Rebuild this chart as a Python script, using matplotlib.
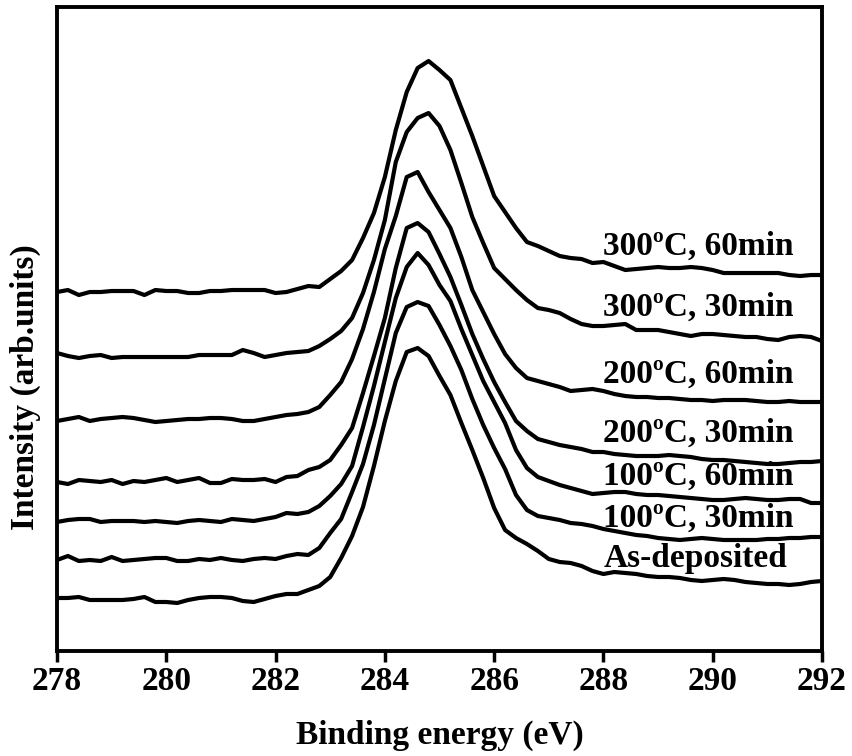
import matplotlib
matplotlib.use('Agg')
import matplotlib.pyplot as plt
import numpy as np

# binding energy grid, 0.2 eV steps
energy = np.round(np.arange(278.0, 292.01, 0.2), 1)

as_dep = [53, 53, 54, 51, 51, 51, 51, 52, 54, 49,
          49, 48, 51, 53, 54, 54, 53, 50, 49, 52,
          55, 57, 57, 61, 65, 74, 93, 115, 144, 185,
          230, 270, 299, 303, 295, 275, 256, 228, 201, 173,
          143, 121, 113, 107, 100, 92, 89, 88, 85, 80,
          77, 79, 78, 77, 75, 74, 74, 73, 71, 70,
          71, 72, 71, 69, 68, 67, 67, 66, 67, 69, 70]
t100_30 = [91, 95, 90, 91, 90, 94, 90, 91, 92, 93,
           93, 90, 90, 92, 91, 93, 91, 90, 92, 93,
           92, 95, 97, 96, 103, 118, 132, 159, 187, 226,
           272, 318, 344, 349, 345, 326, 305, 281, 252, 226,
           203, 182, 156, 141, 135, 133, 131, 128, 127, 125,
           122, 120, 118, 116, 115, 113, 112, 111, 112, 113,
           112, 111, 111, 111, 111, 112, 112, 113, 113, 114, 114]
t100_60 = [129, 131, 132, 132, 129, 130, 130, 130, 129, 130,
           129, 128, 130, 131, 130, 129, 132, 131, 130, 132,
           134, 138, 137, 139, 145, 155, 167, 185, 224, 265,
           309, 353, 384, 398, 386, 366, 350, 322, 296, 270,
           249, 228, 201, 183, 174, 170, 166, 163, 160, 157,
           158, 159, 159, 157, 156, 156, 155, 154, 153, 152,
           151, 151, 152, 153, 152, 151, 151, 152, 152, 148, 148]
t200_30 = [169, 167, 171, 170, 169, 171, 167, 170, 169, 171,
           173, 169, 171, 173, 168, 168, 172, 171, 171, 172,
           169, 174, 175, 181, 184, 191, 206, 223, 258, 295,
           333, 383, 423, 428, 419, 397, 374, 346, 317, 292,
           269, 249, 230, 220, 212, 209, 206, 204, 202, 199,
           199, 197, 196, 195, 195, 195, 196, 195, 194, 192,
           191, 191, 190, 189, 188, 187, 187, 188, 189, 189, 190]
t200_60 = [230, 232, 234, 230, 232, 233, 234, 233, 231, 229,
           230, 231, 232, 232, 233, 233, 232, 230, 230, 232,
           234, 236, 237, 239, 244, 256, 269, 292, 322, 359,
           402, 435, 474, 479, 459, 441, 423, 394, 361, 339,
           317, 297, 283, 273, 270, 267, 264, 260, 261, 262,
           260, 257, 255, 254, 254, 253, 253, 252, 251, 251,
           250, 251, 251, 251, 250, 249, 249, 250, 249, 249, 249]
t300_30 = [298, 295, 293, 295, 296, 293, 294, 294, 294, 294,
           294, 294, 294, 296, 296, 296, 296, 301, 298, 294,
           296, 298, 299, 300, 305, 312, 320, 333, 358, 391,
           431, 489, 519, 533, 538, 525, 501, 468, 434, 408,
           383, 372, 361, 351, 343, 341, 338, 332, 327, 325,
           325, 326, 327, 321, 321, 321, 319, 317, 315, 317,
           317, 316, 315, 314, 314, 312, 311, 314, 315, 314, 310]
t300_60 = [359, 361, 356, 359, 359, 360, 360, 360, 356, 361,
           360, 360, 358, 358, 360, 360, 361, 361, 361, 361,
           358, 359, 362, 365, 364, 372, 380, 391, 413, 438,
           474, 521, 559, 583, 590, 581, 571, 543, 515, 485,
           455, 439, 423, 409, 405, 400, 395, 393, 392, 388,
           389, 385, 381, 382, 383, 384, 383, 383, 384, 383,
           381, 378, 378, 378, 378, 378, 378, 376, 375, 376, 376]

series = [as_dep, t100_30, t100_60, t200_30, t200_60, t300_30, t300_60]
labels = ['As-deposited', '100ºC, 30min', '100ºC, 60min', '200ºC, 30min',
          '200ºC, 60min', '300ºC, 30min', '300ºC, 60min']
label_y = [84, 124, 166, 209, 268, 335, 396]

plt.rcParams['font.family'] = ['Liberation Serif', 'DejaVu Serif']
plt.rcParams['font.weight'] = 'bold'

fig = plt.figure(figsize=(8.52, 7.56), dpi=100)
ax = fig.add_axes([0.0669, 0.1389, 0.8979, 0.8518])

for vals in series:
    ax.plot(energy, vals, color='black', lw=3)

for lab, ly in zip(labels, label_y):
    ax.text(288.0, ly, lab, fontsize=24, fontweight='bold', ha='left', va='baseline')

ax.set_xlim(278, 292)
ax.set_ylim(0, 644)
ax.set_xticks(np.arange(278, 293, 2))
ax.set_yticks([])
ax.tick_params(axis='x', direction='out', length=8, width=2.5, labelsize=24, pad=3)
for lbl in ax.get_xticklabels():
    lbl.set_fontweight('bold')
for sp in ax.spines.values():
    sp.set_linewidth(2.8)

ax.set_xlabel('Binding energy (eV)', fontsize=24, fontweight='bold', labelpad=16)
ax.set_ylabel('Intensity (arb.units)', fontsize=24, fontweight='bold')
ax.yaxis.set_label_coords(-0.021, 0.41)

plt.savefig('out.png', dpi=100)
